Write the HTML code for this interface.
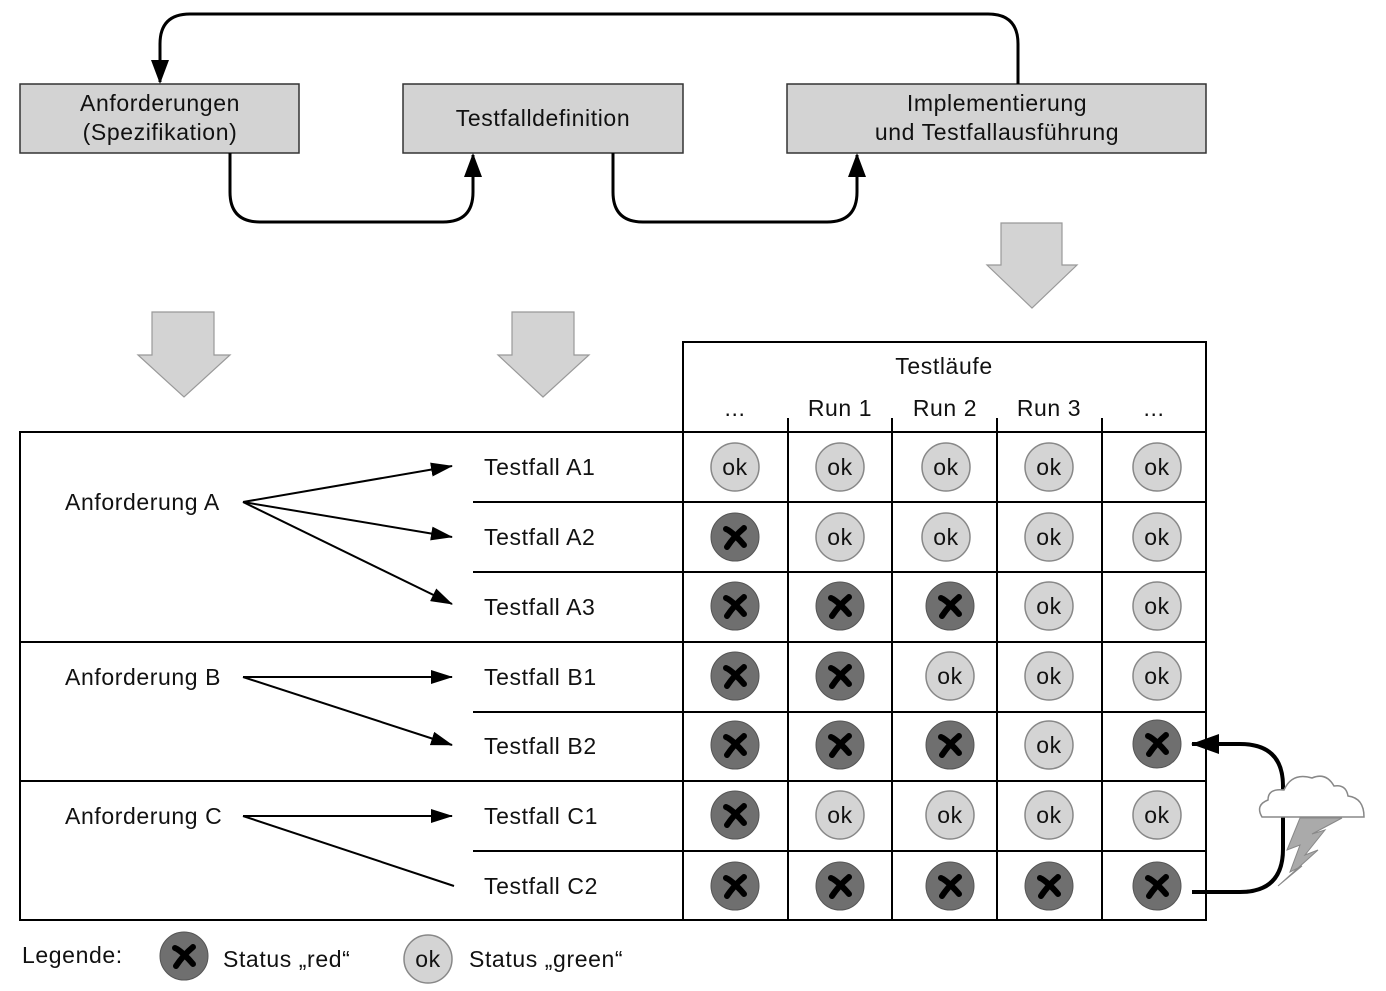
<!DOCTYPE html>
<html><head><meta charset="utf-8"><style>
html,body{margin:0;padding:0;background:#fff;}
svg{display:block;font-family:"Liberation Sans",sans-serif;}
svg text{letter-spacing:0.6px;}
</style></head><body>
<svg width="1386" height="991" viewBox="0 0 1386 991" xmlns="http://www.w3.org/2000/svg">
<defs>
<marker id="ah" markerWidth="22" markerHeight="14" refX="21" refY="7" orient="auto" markerUnits="userSpaceOnUse">
<path d="M0,0 L22,7 L0,14 z" fill="#000"/></marker>
<marker id="ahb" markerWidth="24" markerHeight="18" refX="22" refY="9" orient="auto" markerUnits="userSpaceOnUse">
<path d="M0,0 L24,9 L0,18 z" fill="#000"/></marker>
<marker id="ahm" markerWidth="28" markerHeight="20" refX="27" refY="10" orient="auto" markerUnits="userSpaceOnUse">
<path d="M0,0 L28,10 L0,20 z" fill="#000"/></marker>
<g id="red"><circle r="24" fill="#6f6f6f" stroke="#555" stroke-width="1"/>
<path d="M-9,-8 C-4,-6 4,2 9,8 M9,-9 C3,-4 -4,4 -8,10" stroke="#000" stroke-width="6" stroke-linecap="round" fill="none"/></g>
<g id="ok"><circle r="24" fill="#d4d4d4" stroke="#888" stroke-width="1.5"/></g>
</defs>

<g fill="#d3d3d3" stroke="#333" stroke-width="1.5">
<rect x="20" y="84" width="279" height="69"/>
<rect x="403" y="84" width="280" height="69"/>
<rect x="787" y="84" width="419" height="69"/>
</g>
<g font-size="23" text-anchor="middle" fill="#111">
<text x="160" y="111">Anforderungen</text>
<text x="160" y="140">(Spezifikation)</text>
<text x="543" y="126">Testfalldefinition</text>
<text x="997" y="111">Implementierung</text>
<text x="997" y="140">und Testfallausführung</text>
</g>
<g fill="none" stroke="#000" stroke-width="3">
<path d="M1018,84 V44 Q1018,14 988,14 H190 Q160,14 160,44 V82" marker-end="url(#ahb)"/>
<path d="M230,153 V192 Q230,222 260,222 H443 Q473,222 473,192 V155" marker-end="url(#ahb)"/>
<path d="M613,153 V192 Q613,222 643,222 H827 Q857,222 857,192 V155" marker-end="url(#ahb)"/>
</g>

<g fill="#d3d3d3" stroke="#999" stroke-width="1.2">
<path d="M152,312 H214 V355 H230 L184,397 L138,355 H152 Z"/>
<path d="M512,312 H574 V355 H589 L543,397 L498,355 H512 Z"/>
<path d="M1001,223 H1062 V265 H1077 L1032,308 L987,265 H1001 Z"/>
</g>

<g stroke="#000" stroke-width="2" fill="none">
<rect x="20" y="432" width="663" height="488"/>
<rect x="683" y="342" width="523" height="578"/>
<line x1="683" y1="432" x2="1206" y2="432"/>
<line x1="20" y1="642" x2="1206" y2="642"/>
<line x1="20" y1="781" x2="1206" y2="781"/>
<line x1="473" y1="502" x2="1206" y2="502"/>
<line x1="473" y1="572" x2="1206" y2="572"/>
<line x1="473" y1="712" x2="1206" y2="712"/>
<line x1="473" y1="851" x2="1206" y2="851"/>
<line x1="788" y1="418" x2="788" y2="920"/>
<line x1="892" y1="418" x2="892" y2="920"/>
<line x1="997" y1="418" x2="997" y2="920"/>
<line x1="1102" y1="418" x2="1102" y2="920"/>
</g>
<g font-size="23" fill="#111">
<text x="944" y="374" text-anchor="middle">Testläufe</text>
<g text-anchor="middle">
<text x="735" y="416">...</text>
<text x="840" y="416">Run 1</text>
<text x="945" y="416">Run 2</text>
<text x="1049" y="416">Run 3</text>
<text x="1154" y="416">...</text>
</g>
<text x="65" y="510">Anforderung A</text>
<text x="65" y="685">Anforderung B</text>
<text x="65" y="824">Anforderung C</text>
<text x="484" y="475">Testfall A1</text>
<text x="484" y="545">Testfall A2</text>
<text x="484" y="615">Testfall A3</text>
<text x="484" y="685">Testfall B1</text>
<text x="484" y="754">Testfall B2</text>
<text x="484" y="824">Testfall C1</text>
<text x="484" y="894">Testfall C2</text>
</g>
<g stroke="#000" stroke-width="2" fill="none">
<line x1="243" y1="502" x2="452" y2="466" marker-end="url(#ah)"/>
<line x1="243" y1="502" x2="452" y2="537" marker-end="url(#ah)"/>
<line x1="243" y1="502" x2="452" y2="604" marker-end="url(#ah)"/>
<line x1="243" y1="677" x2="452" y2="677" marker-end="url(#ah)"/>
<line x1="243" y1="677" x2="452" y2="745" marker-end="url(#ah)"/>
<line x1="243" y1="816" x2="452" y2="816" marker-end="url(#ah)"/>
<line x1="243" y1="816" x2="454" y2="886"/>
</g>

<g font-size="23" text-anchor="middle" fill="#111">
<use href="#ok" x="735" y="467"/><text x="735" y="475">ok</text>
<use href="#ok" x="840" y="467"/><text x="840" y="475">ok</text>
<use href="#ok" x="946" y="467"/><text x="946" y="475">ok</text>
<use href="#ok" x="1049" y="467"/><text x="1049" y="475">ok</text>
<use href="#ok" x="1157" y="467"/><text x="1157" y="475">ok</text>
<use href="#red" x="735" y="537"/>
<use href="#ok" x="840" y="537"/><text x="840" y="545">ok</text>
<use href="#ok" x="946" y="537"/><text x="946" y="545">ok</text>
<use href="#ok" x="1049" y="537"/><text x="1049" y="545">ok</text>
<use href="#ok" x="1157" y="537"/><text x="1157" y="545">ok</text>
<use href="#red" x="735" y="606"/>
<use href="#red" x="840" y="606"/>
<use href="#red" x="950" y="606"/>
<use href="#ok" x="1049" y="606"/><text x="1049" y="614">ok</text>
<use href="#ok" x="1157" y="606"/><text x="1157" y="614">ok</text>
<use href="#red" x="735" y="676"/>
<use href="#red" x="840" y="676"/>
<use href="#ok" x="950" y="676"/><text x="950" y="684">ok</text>
<use href="#ok" x="1049" y="676"/><text x="1049" y="684">ok</text>
<use href="#ok" x="1157" y="676"/><text x="1157" y="684">ok</text>
<use href="#red" x="735" y="745"/>
<use href="#red" x="840" y="745"/>
<use href="#red" x="950" y="745"/>
<use href="#ok" x="1049" y="745"/><text x="1049" y="753">ok</text>
<use href="#red" x="1157" y="744"/>
<use href="#red" x="735" y="815"/>
<use href="#ok" x="840" y="815"/><text x="840" y="823">ok</text>
<use href="#ok" x="950" y="815"/><text x="950" y="823">ok</text>
<use href="#ok" x="1049" y="815"/><text x="1049" y="823">ok</text>
<use href="#ok" x="1157" y="815"/><text x="1157" y="823">ok</text>
<use href="#red" x="735" y="886"/>
<use href="#red" x="840" y="886"/>
<use href="#red" x="950" y="886"/>
<use href="#red" x="1049" y="886"/>
<use href="#red" x="1157" y="886"/>
</g>

<path d="M1192,892 H1240 Q1283,892 1283,849 V786 Q1283,744 1240,744 H1192" fill="none" stroke="#000" stroke-width="4" marker-end="url(#ahm)"/>
<path d="M1300,818 L1287,850 L1300,845 L1290,872 L1302,866 L1278,886 L1318,850 L1305,855 L1325,830 L1312,834 L1342,818 Z" fill="#aaa" stroke="#888" stroke-width="1"/>
<path d="M1262,817 Q1255,805 1268,800 Q1268,788 1284,790 Q1292,772 1312,778 Q1326,772 1334,786 Q1346,784 1348,796 Q1364,798 1364,817 Z" fill="#fff" stroke="#888" stroke-width="1.5"/>

<g font-size="23" fill="#111">
<text x="22" y="963">Legende:</text>
<use href="#red" x="184" y="956"/>
<text x="223" y="967">Status „red“</text>
<use href="#ok" x="428" y="959"/><text x="428" y="967" text-anchor="middle">ok</text>
<text x="469" y="967">Status „green“</text>
</g>
</svg>
</body></html>
